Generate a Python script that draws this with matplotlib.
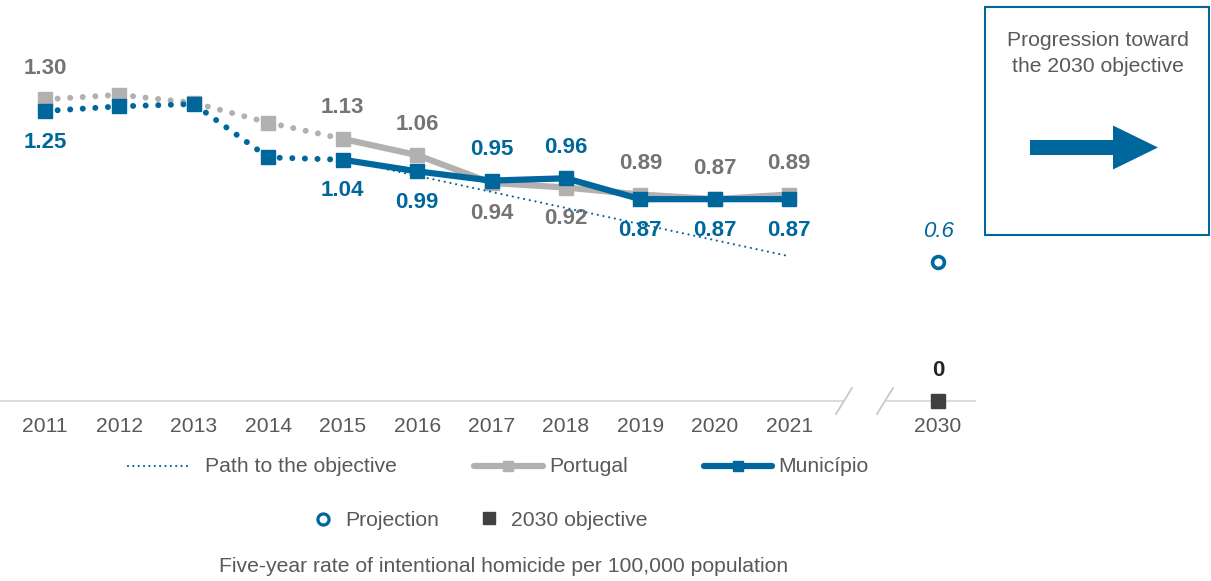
import numpy as np
import matplotlib
matplotlib.use("Agg")
from matplotlib import pyplot as plt
from matplotlib.lines import Line2D
from matplotlib.patches import Rectangle, FancyArrow

plt.rcParams['font.family'] = ['Liberation Sans', 'DejaVu Sans']

# data
years = ['2011', '2012', '2013', '2014', '2015', '2016', '2017', '2018',
         '2019', '2020', '2021']
portugal = [1.30, 1.32, 1.285, 1.20, 1.13, 1.06, 0.94, 0.92, 0.89, 0.87, 0.89]
municipio = [1.25, 1.27, 1.28, 1.05, 1.04, 0.99, 0.95, 0.96, 0.87, 0.87, 0.87]
pt_labels = ['1.30', None, None, None, '1.13', '1.06', '0.94', '0.92', '0.89', '0.87', '0.89']
pt_side = [1, 0, 0, 0, 1, 1, -1, -1, 1, 1, 1]
mu_labels = ['1.25', None, None, None, '1.04', '0.99', '0.95', '0.96', '0.87', '0.87', '0.87']
mu_side = [-1, 0, 0, 0, -1, -1, 1, 1, -1, -1, -1]
path_years = ['2015', '2021']
path_values = [1.04, 0.624]
target_year = '2030'
projection = 0.6
objective = 0.0
dotted_until = '2015'

BLUE = '#00679c'
GREY = '#b3b0b0'
LABGREY = '#777373'
TXT = '#595959'
FS = 15.2      # regular text
FSB = 16       # bold value labels

W, H = 1211, 581
fig = plt.figure(figsize=(W / 100, H / 100), dpi=100)

# main axes: year index on x, rate on y (mapped to the picture's pixel grid)
ax = fig.add_axes([0, 0, 1, 1])
step = 74.42
x0 = 45
ax.set_xlim(-x0 / step, (W - x0) / step)
base_px, unit_px = 401, 232
ax.set_ylim(-(H - base_px) / unit_px, base_px / unit_px)
ax.axis('off')

xi = np.arange(len(years))
x_target = len(years) + 1
k = years.index(dotted_until)

# Portugal
ax.plot(xi[:k + 1], portugal[:k + 1], color=GREY, lw=4.3, ls=(0, (0.01, 2.1)),
        dash_capstyle='round', zorder=2)
ax.plot(xi[k:], portugal[k:], color=GREY, lw=4.5, zorder=2, solid_capstyle='butt')
ax.plot(xi, portugal, ls='none', marker='s', ms=9.5, color=GREY, zorder=3)

# path to the objective
px_idx = [years.index(y) for y in path_years]
ax.plot(px_idx, path_values, color=BLUE, lw=1.6, ls=(0, (0.01, 2.6)),
        dash_capstyle='round', zorder=4)

# Municipio
ax.plot(xi[:k + 1], municipio[:k + 1], color=BLUE, lw=4.3, ls=(0, (0.01, 2.1)),
        dash_capstyle='round', zorder=5)
ax.plot(xi[k:], municipio[k:], color=BLUE, lw=4.5, zorder=5)
ax.plot(xi, municipio, ls='none', marker='s', ms=9.5, color=BLUE, zorder=6)

for i, (lab, s) in enumerate(zip(pt_labels, pt_side)):
    if lab:
        ax.annotate(lab, (i, portugal[i]), xytext=(0, 31 * s), textcoords='offset pixels',
                    ha='center', va='center', fontsize=FSB, fontweight='bold', color=LABGREY)
for i, (lab, s) in enumerate(zip(mu_labels, mu_side)):
    if lab:
        ax.annotate(lab, (i, municipio[i]), xytext=(0, 31 * s), textcoords='offset pixels',
                    ha='center', va='center', fontsize=FSB, fontweight='bold', color=BLUE)

# 2030 points
ax.plot([x_target], [projection], ls='none', marker='o', ms=8.5, mfc='white',
        mec=BLUE, mew=2.6, zorder=6)
ax.annotate(f'{projection:g}', (x_target, projection), xytext=(0, 30), textcoords='offset pixels',
            ha='center', va='center', fontsize=FSB, style='italic', color=BLUE)
ax.plot([x_target], [objective], ls='none', marker='s', ms=9.5, color='#404040',
        zorder=6, clip_on=False)
ax.annotate(f'{objective:g}', (x_target, objective), xytext=(0, 30), textcoords='offset pixels',
            ha='center', va='center', fontsize=FSB, fontweight='bold', color='#262626')

# year labels
for i, y in list(enumerate(years)) + [(x_target, target_year)]:
    ax.annotate(y, (i, 0), xytext=(0, -25), textcoords='offset pixels',
                ha='center', va='center', fontsize=FS, color=TXT)

# overlay in pixel coordinates for the frame items
ov = fig.add_axes([0, 0, 1, 1], zorder=-1)
ov.set_xlim(0, W)
ov.set_ylim(H, 0)
ov.axis('off')
ov2 = fig.add_axes([0, 0, 1, 1], zorder=10)
ov2.set_xlim(0, W)
ov2.set_ylim(H, 0)
ov2.axis('off')
ov2.patch.set_alpha(0)

# baseline with break
ov.plot([0, 843], [401, 401], color='#d9d9d9', lw=1.3)
ov.plot([886, 975], [401, 401], color='#d9d9d9', lw=1.3)
ov.plot([836, 852], [414, 388], color='#c8c8c8', lw=1.3)
ov.plot([877, 893], [414, 388], color='#c8c8c8', lw=1.3)

# right box
ov2.add_patch(Rectangle((985, 7), 224, 228, fill=False, ec=BLUE, lw=1.5))
ov2.text(1098, 40, 'Progression toward', ha='center', va='center', fontsize=FS, color=TXT)
ov2.text(1098, 67, 'the 2030 objective', ha='center', va='center', fontsize=FS, color=TXT)
ov2.add_patch(FancyArrow(1030, 147.5, 128, 0, width=15, head_width=44, head_length=45,
                         length_includes_head=True, color=BLUE, lw=0))

# legend row 1
ov2.add_line(Line2D([128, 192], [466, 466], color=BLUE, lw=1.6, ls=(0, (0.01, 2.4)),
                    dash_capstyle='round'))
ov2.text(205, 467, 'Path to the objective', ha='left', va='center', fontsize=FS, color=TXT)
ov2.add_line(Line2D([474, 543], [466, 466], color=GREY, lw=4.5, solid_capstyle='round'))
ov2.plot([508], [466], marker='s', ms=7, color=GREY)
ov2.text(549, 467, 'Portugal', ha='left', va='center', fontsize=FS, color=TXT)
ov2.add_line(Line2D([704, 772], [466, 466], color=BLUE, lw=4.5, solid_capstyle='round'))
ov2.plot([738], [466], marker='s', ms=7, color=BLUE)
ov2.text(778, 467, 'Município', ha='left', va='center', fontsize=FS, color=TXT)

# legend row 2
ov2.plot([323], [519], marker='o', ms=8, mfc='white', mec=BLUE, mew=2.3)
ov2.text(345, 521, 'Projection', ha='left', va='center', fontsize=FS, color=TXT)
ov2.plot([489], [518], marker='s', ms=8.5, color='#404040')
ov2.text(511, 521, '2030 objective', ha='left', va='center', fontsize=FS, color=TXT)

# caption
ov2.text(504, 566, 'Five-year rate of intentional homicide per 100,000 population',
         ha='center', va='center', fontsize=FS, color=TXT)

fig.savefig('out.png', dpi=100)
